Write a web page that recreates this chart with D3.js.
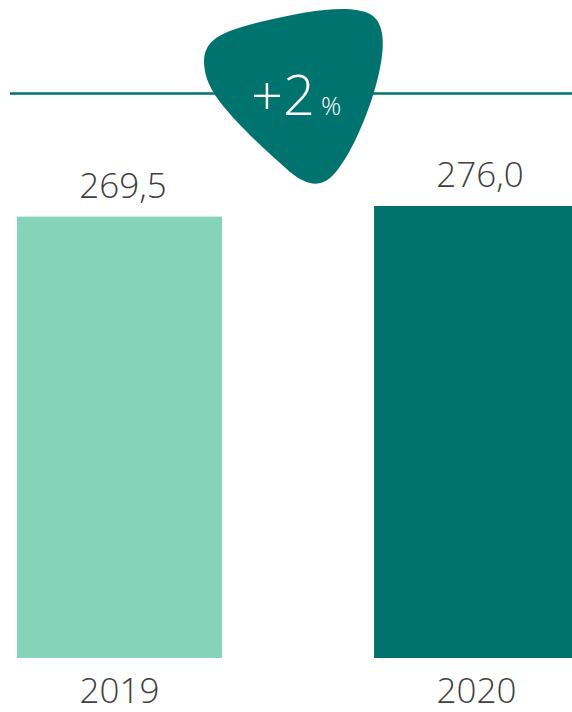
<!DOCTYPE html>
<html><head><meta charset="utf-8">
<script src="https://cdn.jsdelivr.net/npm/d3@7"></script>
<style>html,body{margin:0;padding:0;background:#fff;}svg{display:block;}</style>
</head><body>
<script>
const categories = ["2019", "2020"];
const values = [269.5, 276.0];
const valueLabels = ["269,5", "276,0"];
const changeLabel = "+2";
const changeUnit = "%";
const colors = ["#85d3b8", "#00736f"];

const W = 572, H = 712;
const svg = d3.select("body").append("svg").attr("width", W).attr("height", H);
const font = "'Open Sans', 'Segoe UI', sans-serif";

const x = d3.scaleBand().domain(categories).range([17, 579]).paddingInner(0.426).paddingOuter(0);
const y = d3.scaleLinear().domain([0, 276]).range([658, 206]);

svg.selectAll("rect.bar").data(values).join("rect")
  .attr("class", "bar")
  .attr("x", (d, i) => x(categories[i]))
  .attr("width", x.bandwidth())
  .attr("y", d => y(d))
  .attr("height", d => y(0) - y(d))
  .attr("fill", (d, i) => colors[i]);

svg.selectAll("text.val").data(values).join("text")
  .attr("class", "val")
  .attr("x", (d, i) => x(categories[i]) + x.bandwidth() / 2 + 3.5)
  .attr("y", d => y(d) - 19)
  .attr("text-anchor", "middle")
  .attr("font-family", font).attr("font-weight", 300).attr("font-size", 35)
  .attr("fill", "#404040")
  .text((d, i) => valueLabels[i]);

svg.selectAll("text.cat").data(categories).join("text")
  .attr("class", "cat")
  .attr("x", d => x(d) + x.bandwidth() / 2)
  .attr("y", 703)
  .attr("text-anchor", "middle")
  .attr("font-family", font).attr("font-weight", 300).attr("font-size", 35)
  .attr("fill", "#404040")
  .text(d => d);

// horizontal line
svg.append("line").attr("x1", 10).attr("x2", W).attr("y1", 93.5).attr("y2", 93.5)
  .attr("stroke", "#00736f").attr("stroke-width", 2.5);

// blob
svg.append("path")
  .attr("d", "M204,64 C203,40 220,32 260,22 C310,10 350,4 370,14 C388,24 384,55 376,85 C365,125 345,165 330,178 C318,188 305,184 290,172 C265,150 232,120 215,95 C208,84 205,75 204,64 Z")
  .attr("fill", "#00736f");

const t = svg.append("text").attr("x", 296).attr("y", 115).attr("text-anchor", "middle")
  .attr("font-family", font).attr("font-weight", 300).attr("fill", "#fff");
t.append("tspan").attr("font-size", 56).text(changeLabel);
t.append("tspan").attr("font-size", 25).attr("dx", 6).text(changeUnit);
</script>
</body></html>
